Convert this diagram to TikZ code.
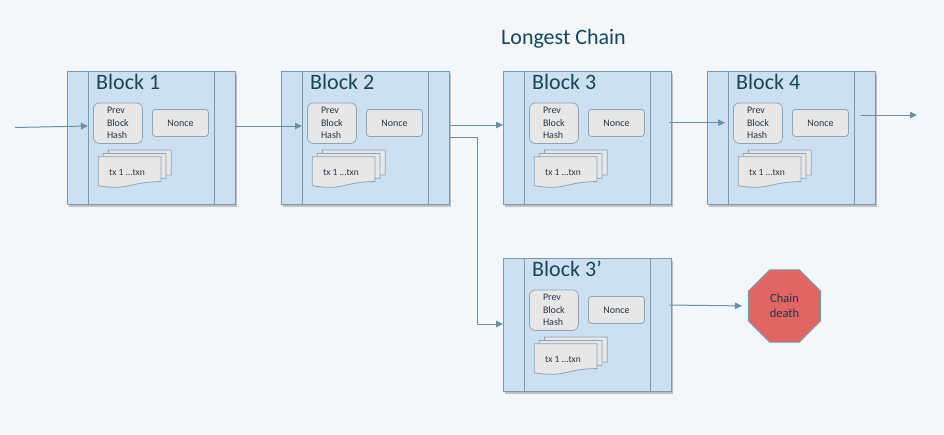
\documentclass[tikz,border=0pt]{standalone}
\usepackage{fontspec}
\setmainfont{Carlito}
\usetikzlibrary{arrows.meta,shapes.geometric,calc}
\definecolor{bgcol}{HTML}{F4F7FA}
\definecolor{blockfill}{HTML}{CDE0F1}
\definecolor{blockline}{HTML}{7D97AB}
\definecolor{titlecol}{HTML}{16465A}
\definecolor{boxfill}{HTML}{E7E7E7}
\definecolor{boxline}{HTML}{8CA4B4}
\definecolor{arrowcol}{HTML}{6C8FA3}
\definecolor{octfill}{HTML}{E06666}
\definecolor{smalltext}{HTML}{2A3540}
\tikzset{
  blockbox/.style={draw=blockline, fill=blockfill, line width=1pt, minimum width=168pt, minimum height=133pt, inner sep=0pt},
  blockline/.style={draw=blockline, line width=1pt},
  blocktitle/.style={text=titlecol, font=\fontsize{22}{24}\selectfont, inner sep=0pt},
  prevbox/.style={draw=boxline, fill=boxfill, rounded corners=6pt, minimum width=49pt, minimum height=40.5pt, inner sep=0pt, align=left, text=smalltext, font=\fontsize{10}{12.5}\selectfont, line width=0.8pt},
  noncebox/.style={draw=boxline, fill=boxfill, rounded corners=3pt, minimum width=56pt, minimum height=27pt, inner sep=0pt, text=smalltext, font=\fontsize{10}{12}\selectfont, line width=0.8pt},
  docstyle/.style={draw=boxline, fill=boxfill, line width=0.8pt},
  txtext/.style={text=smalltext, font=\fontsize{9.5}{11}\selectfont, inner sep=0pt},
  conn/.style={draw=arrowcol, line width=1pt, -{Triangle[length=7pt,width=6.5pt]}},
  octo/.style={regular polygon, regular polygon sides=8, minimum size=78pt, inner sep=0pt, fill=octfill, draw=blockline, line width=1pt, align=center, text=smalltext, font=\fontsize{12.5}{15}\selectfont},
  bigtitle/.style={text=titlecol, font=\fontsize{22}{24}\selectfont, inner sep=0pt}
}
\newcommand\docsheet[2]{%
  \filldraw[docstyle] (#1,#2) -- ({#1+62.7},#2) -- ({#1+62.7},{#2+24.9})
    .. controls ({#1+31.35},{#2+24.9}) and ({#1+31.35},{#2+34.3}) .. (#1,{#2+29}) -- cycle;}
\newcommand\chainblock[4]{%
  \begin{scope}[shift={(#2,#3)}]
    \fill[black, opacity=0.22] (2,3) rectangle (170,136);
    \node[blockbox, anchor=north west] (#1) at (0,0) {};
    \draw[blockline] (21,0) -- (21,133) (147,0) -- (147,133);
    \node[blocktitle, anchor=base west] (#1t) at (29,18) {#4};
    \node[prevbox, anchor=north west] (#1p) at (26,31.5) {Prev\\Block\\Hash};
    \node[noncebox, anchor=north west] (#1n) at (85,38) {Nonce};
    \docsheet{41.6}{79}
    \docsheet{36.3}{82.4}
    \docsheet{31.3}{85.7}
    \node[txtext] (#1x) at (60,101.7) {tx 1 ...txn};
  \end{scope}}
\begin{document}
\begin{tikzpicture}[x=1pt,y=-1pt]
  \fill[bgcol] (0,0) rectangle (944,434);
  \useasboundingbox (0,0) rectangle (944,434);
  \node[bigtitle, anchor=base] (lc) at (563.5,44.5) {Longest Chain};
  \chainblock{b1}{67}{71}{Block 1}
  \chainblock{b2}{281}{71}{Block 2}
  \chainblock{b3}{503}{71}{Block 3}
  \chainblock{b4}{707}{71}{Block 4}
  \chainblock{b3p}{503}{258}{Block 3’}
  \node[octo] (death) at (784.5,306) {Chain\\death};
  \coordinate (in) at (15,127.5);
  \coordinate (out) at (917,115);
  \draw[conn] (in) -- ($(b1.north west)+(21,55)$);
  \draw[conn] ($(b1.north east)+(0,55)$) -- ($(b2.north west)+(21,55)$);
  \draw[conn] ($(b2.north east)+(0,54)$) -- ($(b3.north west)+(0,54)$);
  \draw[conn] ($(b2.north east)+(0,66)$) -- ++(27,0) |- ($(b3p.north west)+(0,66)$);
  \draw[conn] ($(b3.north east)+(-3,51.7)$) -- ($(b4.north west)+(18,51.7)$);
  \draw[conn] ($(b4.north east)+(-15,44)$) -- (out);
  \draw[conn, shorten >=6pt] ($(b3p.north east)+(-3,47)$) -- (death.west);
\end{tikzpicture}
\end{document}
